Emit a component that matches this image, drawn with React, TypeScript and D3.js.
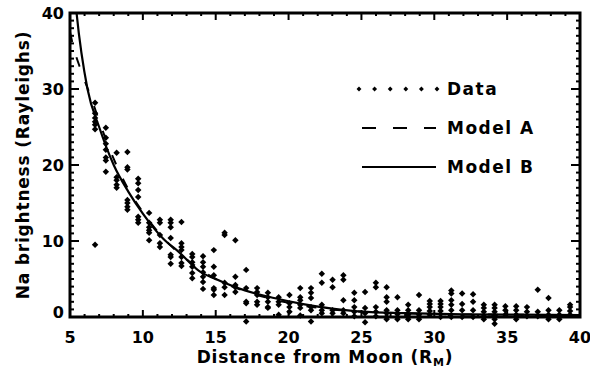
import { useEffect, useRef } from 'react';
import * as d3 from 'd3';

// distance columns (R_M) and brightness readings at each column (Rayleighs)
const distance = [
  6.72, 7.46, 8.2, 8.94, 9.68, 10.43, 11.17, 11.91, 12.65, 13.39, 14.13, 14.87,
  15.61, 16.35, 17.09, 17.84, 18.58, 19.32, 20.06, 20.8, 21.54, 22.28, 23.02,
  23.76, 24.51, 25.25, 25.99, 26.73, 27.47, 28.21, 28.95, 29.69, 30.43, 31.17,
  31.91, 32.66, 33.4, 34.14, 34.88, 35.62, 36.36, 37.1, 37.84, 38.58, 39.32,
];
const brightness = [
  [28.2, 26.8, 26.2, 25.7, 25.3, 24.7, 9.5],
  [24.9, 23.6, 22.8, 22.0, 21.0, 20.6, 19.1],
  [21.6, 18.4, 18.0, 17.4, 17.0],
  [21.7, 19.7, 19.4, 15.4, 15.0, 14.5, 14.1],
  [18.2, 17.6, 16.7, 15.8, 13.2, 12.8, 12.4],
  [13.7, 12.4, 11.8, 11.4, 11.1, 10.1],
  [12.8, 12.4, 10.8, 9.7, 9.2],
  [12.8, 12.4, 11.8, 10.4, 8.2, 7.9, 7.0],
  [12.5, 9.7, 9.2, 8.8, 7.9, 7.1, 6.7],
  [8.3, 7.9, 7.2, 6.6, 5.8, 5.1],
  [8.0, 7.2, 6.6, 5.9, 5.3, 4.6, 3.7],
  [8.8, 6.6, 5.5, 3.8, 3.6, 2.9],
  [11.1, 10.8, 4.5, 3.9, 2.9],
  [10.1, 5.3, 4.2, 3.9, 3.3],
  [6.2, 3.8, 2.0, 1.8, -0.6],
  [3.8, 3.3, 2.9, 2.0, 1.6],
  [3.2, 2.6, 2.0, 1.3, 1.2],
  [2.6, 2.0, 1.6, 0.3],
  [2.9, 1.8, 1.3, 0.7],
  [3.8, 2.6, 2.2, 1.6, 1.2, 0.2],
  [3.8, 3.2, 2.5, 1.3, 0.9, -0.6],
  [5.7, 4.5, 1.6, 0.9, 0.5],
  [4.9, 3.9, 0.9, 0.5],
  [5.5, 4.9, 2.2, 0.9, 0.5],
  [3.2, 2.2, 1.3, 0.7, 0.1],
  [3.3, 1.2, 0.5, -0.7],
  [4.5, 3.9, 1.3, 0.7, 0.1],
  [3.9, 2.6, 2.0, 0.9, 0.5, 0, -0.3],
  [2.6, 0.9, 0.4, 0, -0.3],
  [1.6, 0.9, 0.3, -0.3],
  [2.9, 0.9, 0.3, -0.3],
  [2.1, 1.7, 1.3, 0.8, 0.3],
  [2.1, 1.7, 1.3, 0.8, 0],
  [3.5, 3.1, 2.2, 1.6, 0.9, 0],
  [3.1, 1.7, 0.9, 0],
  [3.0, 2.0, 0.9, 0],
  [1.6, 1.2, 0.7, 0.1, -0.3],
  [1.6, 1.2, 0.7, 0.1, -0.3, -0.9],
  [1.4, 0.9, 0.3],
  [1.4, 0.9, 0.3, -0.3],
  [1.3, 0.7, 0.1],
  [3.6, 0.7, 0.1],
  [2.5, 0.9, 0.3, -0.3],
  [0.9, 0.3, -0.3],
  [1.6, 1.3, 0.8, 0.3],
];

// model curves
const modelAX = [5.0, 5.2, 5.8, 6.5, 7.0, 8.0, 9.0, 10.0, 11.4, 13.0, 15.0, 17.0, 19.0, 21.0, 23.0, 25.0, 30.0, 35.0, 40.0];
const modelAY = [37.5, 35.8, 32.2, 28.6, 25.8, 20.8, 16.8, 13.8, 10.4, 7.6, 5.0, 3.4, 2.3, 1.5, 1.0, 0.7, 0.4, 0.3, 0.25];
const modelBX = [5.3, 5.45, 6.2, 7.0, 8.0, 9.0, 10.0, 11.4, 12.5, 13.9, 15.0, 17.0, 19.0, 21.0, 23.0, 25.0, 28.0, 32.0, 36.0, 40.0];
const modelBY = [43, 40, 30, 25, 20, 16.5, 13.6, 10.3, 8.5, 6.0, 5.0, 3.5, 2.5, 1.7, 1.1, 0.7, 0.5, 0.35, 0.3, 0.25];

const xTicks = [5, 10, 15, 20, 25, 30, 35, 40];
const yTicks = [0, 10, 20, 30, 40];
const legendLabels = ['Data', 'Model A', 'Model B'];

const W = 590;
const H = 369;
const FONT = '"DejaVu Sans", sans-serif';

const Chart: React.FC = () => {
  const svgRef = useRef<SVGSVGElement>(null);

  useEffect(() => {
    if (!svgRef.current) return;
    const svg = d3.select(svgRef.current);
    svg.selectAll('*').remove();

    const left = 70, right = 580, top = 13, bottom = 317;
    const x = d3.scaleLinear().domain([5, 40]).range([left, right]);
    const y = d3.scaleLinear().domain([0, 40]).range([bottom, top]);

    svg.append('defs').append('clipPath').attr('id', 'plot-clip')
      .append('rect')
      .attr('x', left).attr('y', top)
      .attr('width', right - left).attr('height', bottom - top);

    // data points
    const diamond = d3.symbol(d3.symbolSquare, 21)();
    const small = d3.symbol(d3.symbolSquare, 12)();
    const pts: [number, number][] = [];
    distance.forEach((d, i) => brightness[i].forEach(v => pts.push([d, v])));
    svg.append('g').selectAll('path')
      .data(pts)
      .join('path')
      .attr('d', diamond)
      .attr('transform', d => `translate(${x(d[0])},${y(d[1])}) rotate(45)`)
      .attr('fill', '#000');

    // model curves
    const line = d3.line<[number, number]>()
      .x(d => x(d[0]))
      .y(d => y(d[1]))
      .curve(d3.curveMonotoneX);
    const curves = svg.append('g').attr('clip-path', 'url(#plot-clip)');
    curves.append('path')
      .attr('d', line(modelAX.map((v, i) => [v, modelAY[i]])))
      .attr('fill', 'none').attr('stroke', '#000').attr('stroke-width', 2)
      .attr('stroke-dasharray', '10 16');
    curves.append('path')
      .attr('d', line(modelBX.map((v, i) => [v, modelBY[i]])))
      .attr('fill', 'none').attr('stroke', '#000').attr('stroke-width', 2.2);

    // frame + ticks
    const ax = svg.append('g').attr('stroke', '#000');
    ax.append('rect')
      .attr('x', left).attr('y', top)
      .attr('width', right - left).attr('height', bottom - top)
      .attr('fill', 'none').attr('stroke-width', 3);

    d3.range(5, 41, 1).forEach(v => {
      const len = v % 5 === 0 ? 7 : 3;
      ax.append('line').attr('x1', x(v)).attr('x2', x(v))
        .attr('y1', bottom).attr('y2', bottom - len).attr('stroke-width', 2);
      ax.append('line').attr('x1', x(v)).attr('x2', x(v))
        .attr('y1', top).attr('y2', top + len).attr('stroke-width', 2);
    });
    d3.range(0, 41, 1).forEach(v => {
      const len = v % 10 === 0 ? 9 : 4;
      ax.append('line').attr('y1', y(v)).attr('y2', y(v))
        .attr('x1', left).attr('x2', left + len).attr('stroke-width', 2);
      ax.append('line').attr('y1', y(v)).attr('y2', y(v))
        .attr('x1', right).attr('x2', right - len).attr('stroke-width', 2);
    });

    // tick labels
    const lab = svg.append('g')
      .attr('font-family', FONT).attr('font-weight', 'bold')
      .attr('fill', '#000');
    xTicks.forEach(v => {
      lab.append('text').attr('x', x(v)).attr('y', 343).attr('font-size', 16)
        .attr('text-anchor', 'middle').text(v);
    });
    yTicks.forEach(v => {
      lab.append('text').attr('x', 64).attr('y', y(v) + (v === 0 ? 1 : 6))
        .attr('font-size', 16)
        .attr('text-anchor', 'end').text(v);
    });

    // axis titles
    const xt = lab.append('text').attr('x', (left + right) / 2).attr('y', 363)
      .attr('font-size', 17).attr('letter-spacing', 0.8)
      .attr('text-anchor', 'middle');
    xt.append('tspan').text('Distance from Moon (R');
    xt.append('tspan').attr('font-size', 11).attr('dy', 3).text('M');
    xt.append('tspan').attr('dy', -3).text(')');
    lab.append('text')
      .attr('transform', `translate(29,${(top + bottom) / 2}) rotate(-90)`)
      .attr('font-size', 17).attr('letter-spacing', 0.8)
      .attr('text-anchor', 'middle')
      .text('Na brightness (Rayleighs)');

    // legend
    const lg = svg.append('g');
    const rows = [89, 128, 167];
    d3.range(6).forEach(k => {
      lg.append('path').attr('d', small)
        .attr('transform', `translate(${359 + k * 15.6},${rows[0]}) rotate(45)`);
    });
    lg.append('line').attr('x1', 362).attr('x2', 436).attr('y1', rows[1]).attr('y2', rows[1])
      .attr('stroke', '#000').attr('stroke-width', 2).attr('stroke-dasharray', '14 17');
    lg.append('line').attr('x1', 362).attr('x2', 436).attr('y1', rows[2]).attr('y2', rows[2])
      .attr('stroke', '#000').attr('stroke-width', 2);
    legendLabels.forEach((t, i) => {
      lg.append('text').attr('x', 447).attr('y', rows[i] + 6)
        .attr('font-family', FONT).attr('font-weight', 'bold')
        .attr('font-size', 17).attr('letter-spacing', 1.5).text(t);
    });
  }, []);

  return (
    <svg
      ref={svgRef}
      width={W}
      height={H}
      style={{ position: 'absolute', left: 0, top: 0, background: '#fff' }}
    />
  );
};

export default function App() {
  return <Chart />;
}
